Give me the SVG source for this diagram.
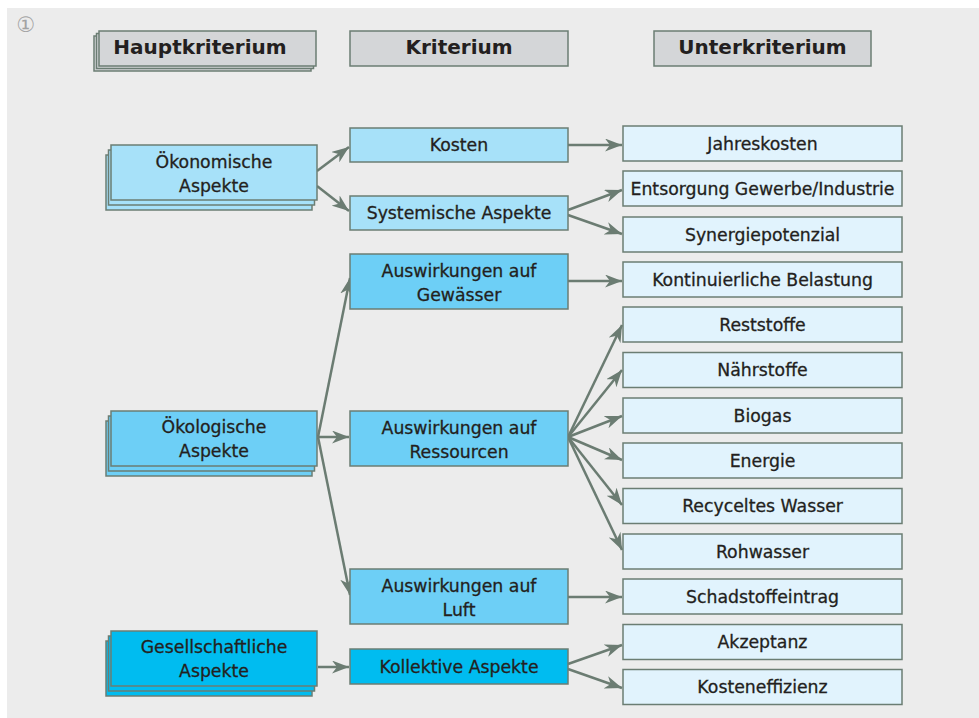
<svg xmlns="http://www.w3.org/2000/svg" width="979" height="718" viewBox="0 0 979 718">
  <style>
    .box { stroke: #6b7d73; stroke-width: 1.5; }
    .hdr { fill: #d4d6d8; }
    .c1 { fill: #a7e1f9; }
    .c2 { fill: #6dcff6; }
    .c3 { fill: #00bcf0; }
    .c4 { fill: #e1f3fd; }
    text { font-family: "DejaVu Sans", "Liberation Sans", sans-serif; fill: #231f20; text-anchor: middle; }
    .ht { font-size: 20px; font-weight: bold; }
    .nt { font-size: 17.3px; stroke: #231f20; stroke-width: 0.3; }
    .num { font-size: 21px; fill: #a3a3a3; }
    .conn path { fill: none; stroke: #6b7c72; stroke-width: 2.5; marker-end: url(#arrow); }
  </style>
  <defs>
    <marker id="arrow" markerUnits="userSpaceOnUse" markerWidth="17" markerHeight="13" refX="17" refY="6.5" orient="auto">
      <path d="M0,0 L17,6.5 L0,13 L5,6.5 z" fill="#6b7c72"/>
    </marker>
  </defs>

  <!-- panel background -->
  <rect x="7" y="8" width="972" height="710" fill="#ececec"/>
  <text class="num" x="26" y="32">①</text>

  <!-- column headers -->
  <g id="hdr-hauptkriterium">
    <rect class="box hdr" x="94" y="36" width="217" height="35"/>
    <rect class="box hdr" x="96.5" y="33.5" width="217" height="35"/>
    <rect class="box hdr" x="99" y="31" width="217" height="35"/>
    <text class="ht" x="200" y="54">Hauptkriterium</text>
  </g>
  <g id="hdr-kriterium">
    <rect class="box hdr" x="350" y="31" width="218" height="35"/>
    <text class="ht" x="459" y="54">Kriterium</text>
  </g>
  <g id="hdr-unterkriterium">
    <rect class="box hdr" x="654" y="31" width="217" height="35"/>
    <text class="ht" x="762.5" y="54">Unterkriterium</text>
  </g>

  <!-- connectors -->
  <g id="connectors" class="conn">
    <path d="M317,171 L349,147"/>
    <path d="M317,186 L349,211"/>
    <path d="M568,145 L622,145"/>
    <path d="M568,210 L622,190"/>
    <path d="M568,215 L622,234"/>
    <path d="M318,437 L350,278"/>
    <path d="M318,437 L349,437"/>
    <path d="M318,437 L350,595"/>
    <path d="M568,281 L622,281"/>
    <path d="M568,437 L622,325"/>
    <path d="M568,437 L622,370"/>
    <path d="M568,437 L622,416"/>
    <path d="M568,437 L622,460"/>
    <path d="M568,437 L622,505"/>
    <path d="M568,437 L622,550"/>
    <path d="M568,597 L622,597"/>
    <path d="M318,667 L349,667"/>
    <path d="M568,664 L622,645"/>
    <path d="M568,669 L622,688"/>
  </g>

  <!-- main criteria -->
  <g id="oekonomisch">
    <rect class="box c1" x="106" y="155" width="206" height="55"/>
    <rect class="box c1" x="108.5" y="150" width="206" height="55"/>
    <rect class="box c1" x="111" y="145" width="206" height="55"/>
    <text class="nt" x="214" y="167.5">Ökonomische</text>
    <text class="nt" x="214" y="191.5">Aspekte</text>
  </g>
  <g id="oekologisch">
    <rect class="box c2" x="106" y="421" width="206" height="55"/>
    <rect class="box c2" x="108.5" y="416" width="206" height="55"/>
    <rect class="box c2" x="111" y="411" width="206" height="55"/>
    <text class="nt" x="214" y="433">Ökologische</text>
    <text class="nt" x="214" y="457">Aspekte</text>
  </g>
  <g id="gesellschaftlich">
    <rect class="box c3" x="106" y="641" width="206" height="55"/>
    <rect class="box c3" x="108.5" y="636" width="206" height="55"/>
    <rect class="box c3" x="111" y="631" width="206" height="55"/>
    <text class="nt" x="214" y="653">Gesellschaftliche</text>
    <text class="nt" x="214" y="677">Aspekte</text>
  </g>

  <!-- criteria -->
  <g id="kosten">
    <rect class="box c1" x="350" y="128" width="218" height="34"/>
    <text class="nt" x="459" y="151">Kosten</text>
  </g>
  <g id="systemisch">
    <rect class="box c1" x="350" y="196" width="218" height="34"/>
    <text class="nt" x="459" y="219">Systemische Aspekte</text>
  </g>
  <g id="gewaesser">
    <rect class="box c2" x="350" y="254" width="218" height="55"/>
    <text class="nt" x="459" y="276.5">Auswirkungen auf</text>
    <text class="nt" x="459" y="300.5">Gewässer</text>
  </g>
  <g id="ressourcen">
    <rect class="box c2" x="350" y="411" width="218" height="55"/>
    <text class="nt" x="459" y="433.5">Auswirkungen auf</text>
    <text class="nt" x="459" y="457.5">Ressourcen</text>
  </g>
  <g id="luft">
    <rect class="box c2" x="350" y="569" width="218" height="55"/>
    <text class="nt" x="459" y="591.5">Auswirkungen auf</text>
    <text class="nt" x="459" y="615.5">Luft</text>
  </g>
  <g id="kollektiv">
    <rect class="box c3" x="350" y="649" width="218" height="35"/>
    <text class="nt" x="459" y="672.5">Kollektive Aspekte</text>
  </g>

  <!-- sub-criteria -->
  <g id="jahreskosten">
    <rect class="box c4" x="623" y="126" width="279" height="35"/>
    <text class="nt" x="762.5" y="149.5">Jahreskosten</text>
  </g>
  <g id="entsorgung">
    <rect class="box c4" x="623" y="171" width="279" height="35"/>
    <text class="nt" x="762.5" y="194.5">Entsorgung Gewerbe/Industrie</text>
  </g>
  <g id="synergie">
    <rect class="box c4" x="623" y="217" width="279" height="35"/>
    <text class="nt" x="762.5" y="240.5">Synergiepotenzial</text>
  </g>
  <g id="belastung">
    <rect class="box c4" x="623" y="262" width="279" height="35"/>
    <text class="nt" x="762.5" y="285.5">Kontinuierliche Belastung</text>
  </g>
  <g id="reststoffe">
    <rect class="box c4" x="623" y="307" width="279" height="35"/>
    <text class="nt" x="762.5" y="330.5">Reststoffe</text>
  </g>
  <g id="naehrstoffe">
    <rect class="box c4" x="623" y="352.5" width="279" height="35"/>
    <text class="nt" x="762.5" y="376">Nährstoffe</text>
  </g>
  <g id="biogas">
    <rect class="box c4" x="623" y="398" width="279" height="35"/>
    <text class="nt" x="762.5" y="421.5">Biogas</text>
  </g>
  <g id="energie">
    <rect class="box c4" x="623" y="443" width="279" height="35"/>
    <text class="nt" x="762.5" y="466.5">Energie</text>
  </g>
  <g id="wasser">
    <rect class="box c4" x="623" y="488.5" width="279" height="35"/>
    <text class="nt" x="762.5" y="512">Recyceltes Wasser</text>
  </g>
  <g id="rohwasser">
    <rect class="box c4" x="623" y="534" width="279" height="35"/>
    <text class="nt" x="762.5" y="557.5">Rohwasser</text>
  </g>
  <g id="schadstoff">
    <rect class="box c4" x="623" y="579" width="279" height="35"/>
    <text class="nt" x="762.5" y="602.5">Schadstoffeintrag</text>
  </g>
  <g id="akzeptanz">
    <rect class="box c4" x="623" y="624.5" width="279" height="35"/>
    <text class="nt" x="762.5" y="648">Akzeptanz</text>
  </g>
  <g id="kosteneffizienz">
    <rect class="box c4" x="623" y="669.5" width="279" height="35"/>
    <text class="nt" x="762.5" y="693">Kosteneffizienz</text>
  </g>
</svg>
